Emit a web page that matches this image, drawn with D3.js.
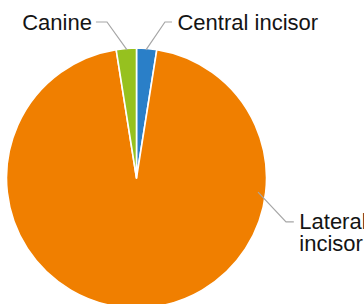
<!DOCTYPE html>
<html>
<head>
<meta charset="utf-8">
<script src="https://cdn.jsdelivr.net/npm/d3@7"></script>
<style>
  html, body { margin: 0; padding: 0; background: #fff; overflow: hidden; }
  svg { display: block; }
  text { font-family: "Liberation Sans", Arial, Helvetica, sans-serif; fill: #141414; }
</style>
</head>
<body>
<svg id="chart" width="364" height="304"></svg>
<script>
// Data
const categories = ["Central incisor", "Lateral incisor", "Canine"];
const values = [2.5, 95.0, 2.5];
const colors = ["#2a7fc8", "#f07f00", "#96c11f"];
// label lines (text split into lines)
const labelLines = [["Central incisor"], ["Lateral", "incisor"], ["Canine"]];

const W = 364, H = 304;
const cx = 136.5, cy = 178, R = 130;
const svg = d3.select("#chart");

const pie = d3.pie().sort(null).value(d => d)(values);
const arc = d3.arc().innerRadius(0).outerRadius(R);

const g = svg.append("g").attr("transform", `translate(${cx},${cy})`);
g.selectAll("path.slice")
  .data(pie)
  .enter().append("path")
  .attr("class", "slice")
  .attr("d", arc)
  .attr("fill", (d, i) => colors[i])
  .attr("stroke", "#fff")
  .attr("stroke-width", 1.6)
  .attr("stroke-linejoin", "round");

// Leader-line layout (relative to pie centre, in units of R)
const leaders = [
  { start: [0.073, -0.985], elbow: [0.219, -1.2], end: [0.273, -1.2], anchor: "start" },
  { start: [0.935, 0.108], elbow: [1.15, 0.338], end: [1.21, 0.338], anchor: "start" },
  { start: [-0.073, -0.985], elbow: [-0.227, -1.2], end: [-0.312, -1.2], anchor: "end" }
];

const lg = g.append("g");
leaders.forEach((L, i) => {
  const pts = [L.start, L.elbow, L.end].map(p => [p[0] * R, p[1] * R]);
  lg.append("path")
    .attr("d", d3.line()(pts))
    .attr("fill", "none")
    .attr("stroke", "#a6a6a6")
    .attr("stroke-width", 1.2);
  const tx = pts[2][0] + (L.anchor === "start" ? 5.5 : -4);
  const lines = labelLines[i];
  const lh = 22;
  const t = lg.append("text")
    .attr("text-anchor", L.anchor)
    .attr("font-size", "22px");
  lines.forEach((ln, j) => {
    t.append("tspan")
      .attr("x", tx)
      .attr("y", pts[2][1] + 7.5 + j * lh)
      .text(ln);
  });
});
</script>
</body>
</html>
